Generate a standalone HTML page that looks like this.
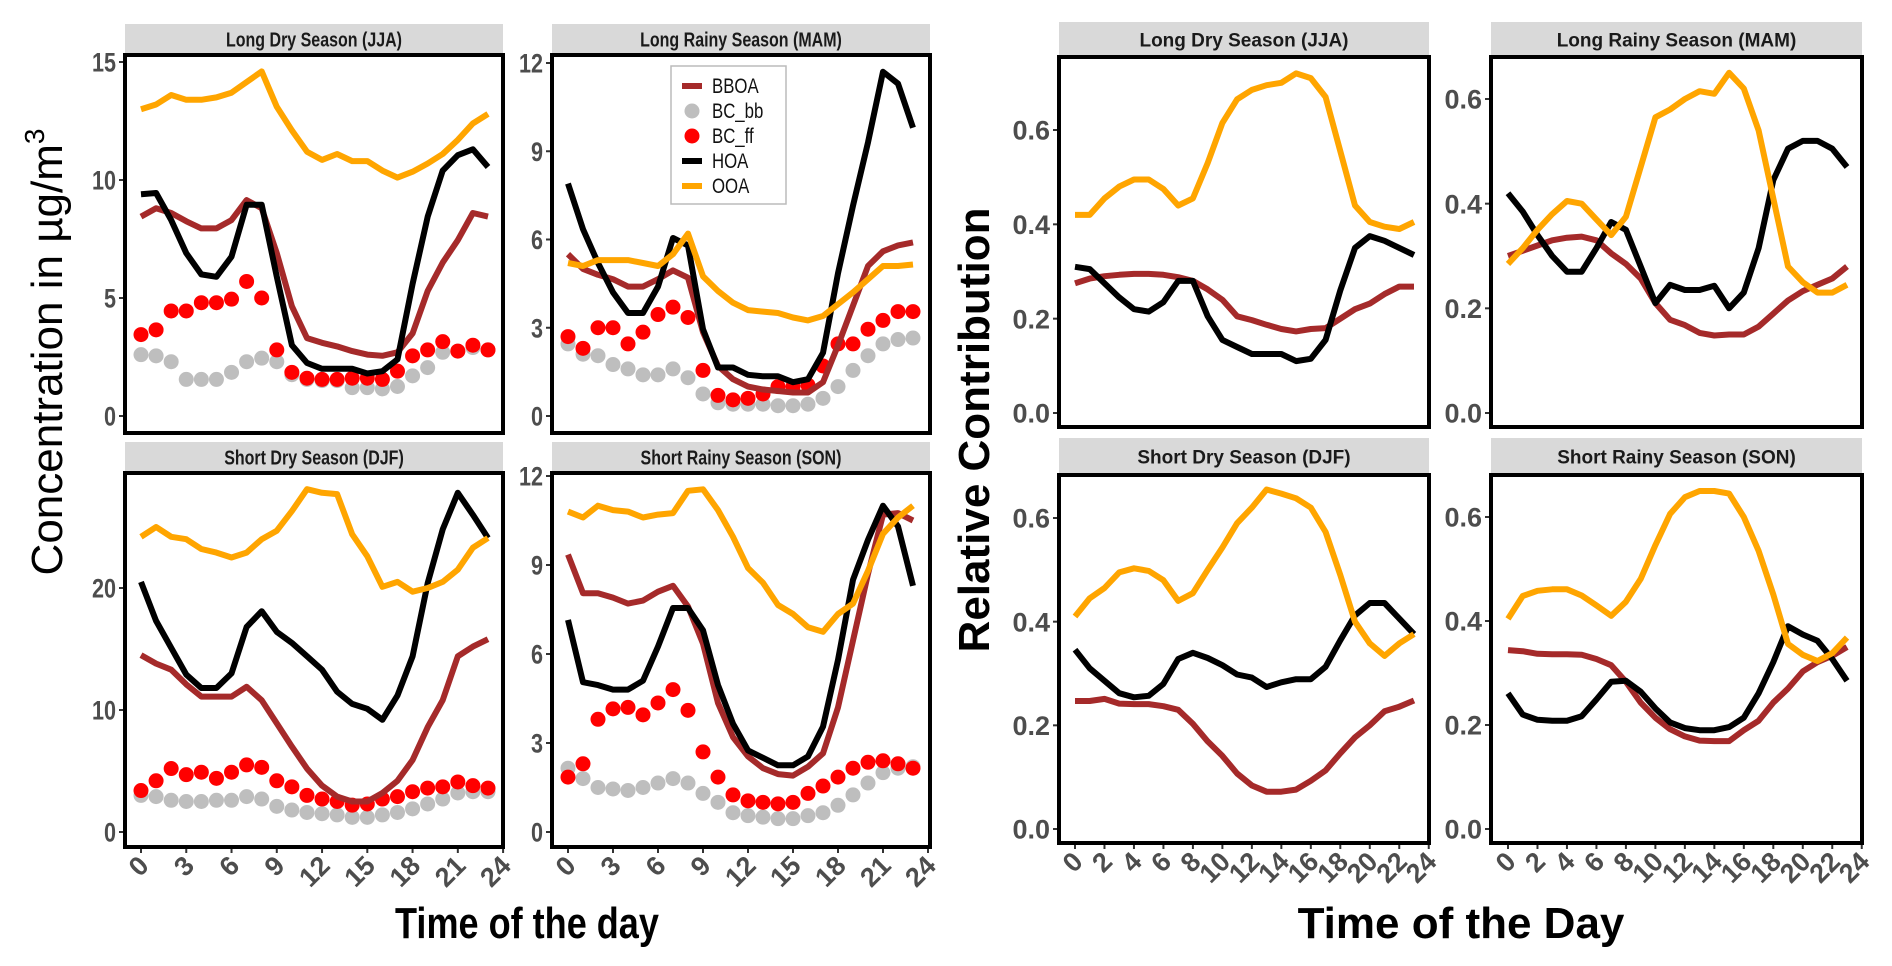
<!DOCTYPE html>
<html><head><meta charset="utf-8"><style>
body{margin:0;background:#fff;}
svg{display:block;}
</style></head><body>
<svg id="fig" width="1892" height="966" viewBox="0 0 1892 966" xmlns="http://www.w3.org/2000/svg" font-family="Liberation Sans, sans-serif"></svg>
<script>
// ---------- data ----------
const hours = [0,1,2,3,4,5,6,7,8,9,10,11,12,13,14,15,16,17,18,19,20,21,22,23];
const seriesNames = ["BBOA","BC_bb","BC_ff","HOA","OOA"];
const leftTicksJJA = [0,5,10,15];
const leftTicksMAM = [0,3,6,9,12];
const leftTicksDJF = [0,10,20];
const leftTicksSON = [0,3,6,9,12];
const leftXTicks = [0,3,6,9,12,15,18,21,24];
const rightYTicks = [0.0,0.2,0.4,0.6];
const rightXTicks = [0,2,4,6,8,10,12,14,16,18,20,22,24];

const jjaOOA = [13.0,13.2,13.6,13.4,13.4,13.5,13.7,14.15,14.6,13.1,12.1,11.2,10.85,11.1,10.8,10.8,10.4,10.1,10.35,10.7,11.1,11.7,12.4,12.8];
const jjaHOA = [9.4,9.45,8.3,6.9,6.0,5.9,6.75,8.95,8.95,5.9,3.0,2.25,2.0,2.0,2.0,1.8,1.9,2.4,5.6,8.45,10.4,11.05,11.3,10.55];
const jjaBBOA = [8.45,8.8,8.6,8.25,7.95,7.95,8.3,9.15,8.8,6.9,4.65,3.3,3.1,2.95,2.75,2.6,2.55,2.7,3.5,5.3,6.5,7.45,8.6,8.45];
const jjaBCff = [3.45,3.65,4.45,4.45,4.8,4.8,4.95,5.7,5.0,2.8,1.85,1.6,1.55,1.55,1.6,1.6,1.55,1.9,2.55,2.8,3.15,2.75,3.0,2.8];
const jjaBCbb = [2.6,2.55,2.3,1.55,1.55,1.55,1.85,2.3,2.45,2.3,1.75,1.55,1.5,1.5,1.2,1.2,1.15,1.25,1.7,2.05,2.7,2.75,2.9,2.8];

const mamHOA = [7.9,6.35,5.2,4.2,3.5,3.5,4.4,6.05,5.8,2.95,1.65,1.65,1.4,1.35,1.35,1.15,1.25,2.15,4.85,7.15,9.3,11.7,11.3,9.8];
const mamBBOA = [5.5,5.0,4.8,4.65,4.4,4.4,4.65,4.95,4.7,2.85,1.7,1.25,1.0,0.9,0.85,0.8,0.8,1.15,2.4,3.75,5.1,5.6,5.8,5.9];
const mamOOA = [5.2,5.1,5.3,5.3,5.3,5.2,5.1,5.5,6.2,4.75,4.25,3.85,3.6,3.55,3.5,3.35,3.25,3.4,3.8,4.2,4.65,5.1,5.1,5.15];
const mamBCff = [2.7,2.3,3.0,3.0,2.45,2.85,3.45,3.7,3.35,1.55,0.7,0.55,0.6,0.75,1.0,1.0,1.05,1.7,2.45,2.45,2.95,3.25,3.55,3.55];
const mamBCbb = [2.45,2.1,2.05,1.75,1.6,1.4,1.4,1.6,1.3,0.75,0.45,0.4,0.4,0.4,0.35,0.35,0.4,0.6,1.0,1.55,2.05,2.45,2.6,2.65];

const djfOOA = [24.2,25.0,24.2,24.0,23.2,22.9,22.5,22.9,24.0,24.7,26.3,28.1,27.8,27.7,24.4,22.6,20.1,20.5,19.7,20.0,20.5,21.5,23.3,24.1];
const djfHOA = [20.5,17.3,15.1,12.9,11.8,11.8,13.0,16.8,18.1,16.4,15.5,14.4,13.3,11.5,10.5,10.1,9.2,11.2,14.4,20.4,24.8,27.8,26.0,24.1];
const djfBBOA = [14.5,13.8,13.3,12.1,11.1,11.1,11.1,11.9,10.8,8.9,7.0,5.2,3.8,2.9,2.5,2.5,3.2,4.2,5.9,8.6,10.8,14.4,15.2,15.8];
const djfBCff = [3.4,4.2,5.2,4.7,4.9,4.4,4.9,5.5,5.3,4.2,3.7,3.0,2.7,2.5,2.2,2.3,2.7,2.9,3.3,3.6,3.7,4.1,3.8,3.6];
const djfBCbb = [3.0,2.9,2.6,2.5,2.5,2.6,2.6,2.9,2.7,2.1,1.8,1.6,1.5,1.4,1.2,1.2,1.4,1.6,1.9,2.3,2.7,3.2,3.3,3.3];

const sonOOA = [10.8,10.6,11.0,10.85,10.8,10.6,10.7,10.75,11.5,11.55,10.85,9.95,8.9,8.4,7.65,7.35,6.9,6.75,7.35,7.7,8.8,10.05,10.6,11.0];
const sonHOA = [7.15,5.05,4.95,4.8,4.8,5.1,6.25,7.55,7.55,6.8,4.95,3.65,2.75,2.5,2.25,2.25,2.55,3.55,5.8,8.5,9.85,11.0,10.3,8.3];
const sonBBOA = [9.35,8.05,8.05,7.9,7.7,7.8,8.1,8.3,7.6,6.35,4.35,3.2,2.55,2.15,1.95,1.9,2.2,2.65,4.2,6.45,8.7,10.7,10.75,10.5];
const sonBCff = [1.85,2.3,3.8,4.15,4.2,3.95,4.35,4.8,4.1,2.7,1.85,1.25,1.05,1.0,0.95,1.0,1.3,1.55,1.85,2.15,2.35,2.4,2.3,2.15];
const sonBCbb = [2.15,1.8,1.5,1.45,1.4,1.5,1.65,1.8,1.65,1.3,1.0,0.65,0.55,0.5,0.45,0.45,0.55,0.65,0.9,1.25,1.65,2.0,2.15,2.2];

const relJJA_OOA = [0.42,0.42,0.455,0.48,0.495,0.495,0.475,0.44,0.455,0.53,0.615,0.665,0.685,0.695,0.70,0.72,0.71,0.67,0.555,0.44,0.405,0.395,0.39,0.405];
const relJJA_HOA = [0.31,0.305,0.275,0.245,0.22,0.215,0.235,0.28,0.28,0.205,0.155,0.14,0.125,0.125,0.125,0.11,0.115,0.155,0.26,0.35,0.375,0.365,0.35,0.335];
const relJJA_BBOA = [0.275,0.285,0.29,0.293,0.295,0.295,0.293,0.288,0.28,0.262,0.24,0.205,0.197,0.187,0.178,0.173,0.178,0.18,0.2,0.22,0.232,0.252,0.268,0.268];
const relMAM_OOA = [0.285,0.315,0.35,0.38,0.405,0.40,0.37,0.34,0.375,0.47,0.565,0.58,0.60,0.615,0.61,0.65,0.62,0.54,0.41,0.28,0.25,0.23,0.23,0.245];
const relMAM_HOA = [0.42,0.385,0.34,0.30,0.27,0.27,0.315,0.365,0.35,0.28,0.21,0.245,0.235,0.235,0.243,0.20,0.23,0.315,0.445,0.505,0.52,0.52,0.505,0.47];
const relMAM_BBOA = [0.30,0.31,0.32,0.33,0.335,0.337,0.33,0.305,0.285,0.257,0.21,0.178,0.168,0.153,0.148,0.15,0.15,0.165,0.19,0.215,0.233,0.245,0.257,0.28];
const relDJF_OOA = [0.41,0.445,0.465,0.495,0.503,0.498,0.48,0.44,0.455,0.50,0.543,0.59,0.62,0.655,0.647,0.638,0.62,0.573,0.49,0.40,0.358,0.334,0.358,0.376];
const relDJF_HOA = [0.346,0.31,0.286,0.262,0.254,0.257,0.28,0.328,0.34,0.33,0.316,0.298,0.292,0.274,0.283,0.289,0.289,0.313,0.364,0.412,0.436,0.436,0.406,0.376];
const relDJF_BBOA = [0.247,0.247,0.251,0.242,0.241,0.241,0.237,0.23,0.203,0.169,0.141,0.107,0.084,0.072,0.072,0.076,0.093,0.113,0.146,0.177,0.2,0.227,0.236,0.248];
const relSON_OOA = [0.404,0.448,0.458,0.461,0.461,0.449,0.43,0.41,0.437,0.481,0.546,0.606,0.638,0.65,0.65,0.645,0.60,0.535,0.451,0.356,0.335,0.323,0.338,0.368];
const relSON_HOA = [0.261,0.22,0.21,0.208,0.208,0.217,0.249,0.283,0.285,0.264,0.232,0.205,0.194,0.19,0.19,0.196,0.214,0.261,0.321,0.39,0.374,0.362,0.327,0.285];
const relSON_BBOA = [0.344,0.342,0.337,0.336,0.336,0.335,0.327,0.315,0.283,0.243,0.214,0.192,0.178,0.17,0.169,0.169,0.19,0.208,0.243,0.27,0.303,0.321,0.333,0.35];

// ---------- drawing ----------
const NS = "http://www.w3.org/2000/svg";
const svg = document.getElementById("fig");
const COL = {BBOA:"#A52A2A", BC_bb:"#BEBEBE", BC_ff:"#FF0000", HOA:"#000000", OOA:"#FFA500"};
function mk(tag, attrs, parent){
  const e = document.createElementNS(NS, tag);
  for (const k in attrs) e.setAttribute(k, attrs[k]);
  (parent||svg).appendChild(e);
  return e;
}

function panel(cfg){
  const g = mk("g", {});
  
  
  const xs = h => cfg.x0 + (h - 0) * (cfg.x23 - cfg.x0) / 23;
  const ys = v => cfg.yZero + (v - 0) * (cfg.yRef - cfg.yZero) / cfg.vRef;
  const strip = mk("rect", {x:cfg.L, y:cfg.sT, width:cfg.R-cfg.L, height:cfg.T-cfg.sT, fill:"#d9d9d9"}, g);
  
  
  const cx = (cfg.L+cfg.R)/2, cy = (cfg.sT+cfg.T)/2 + cfg.stripFont*0.36;
  const st = mk("text", {x:cx, y:cy, "text-anchor":"middle", "font-weight":"bold", "font-size":cfg.stripFont, fill:"#1a1a1a",
    transform:`translate(${cx},0) scale(${cfg.sx},1) translate(${-cx},0)`}, g);
  st.textContent = cfg.title;
  
  
  cfg.yTicks.forEach(v => {
    const y = ys(v);
    mk("line", {x1:cfg.L-6, x2:cfg.L, y1:y, y2:y, stroke:"#333", "stroke-width":2}, g);
    const tx = cfg.L-9;
    const t = mk("text", {x:tx, y:y+cfg.tickFont*0.36, "text-anchor":"end", "font-size":cfg.tickFont, "font-weight":"bold", fill:"#4d4d4d",
      transform:`translate(${tx},0) scale(${cfg.sx},1) translate(${-tx},0)`}, g);
    t.textContent = cfg.yFmt(v);
    
    
  });
  if (cfg.showX){
    cfg.xTicks.forEach(h => {
      const x = xs(h);
      mk("line", {x1:x, x2:x, y1:cfg.B, y2:cfg.B+6, stroke:"#333", "stroke-width":2}, g);
      const px = x+cfg.tickFont*0.35, py = cfg.B+cfg.tickFont*0.75;
      const t = mk("text", {x:px, y:py, "text-anchor":"end", "font-size":cfg.tickFont, "font-weight":"bold", fill:"#4d4d4d",
        transform:`rotate(-45 ${px} ${py})`}, g);
      t.textContent = h;
      
      
    });
  }
  const clip = mk("clipPath", {id:"c"+cfg.name}, g);
  mk("rect", {x:cfg.L, y:cfg.T, width:cfg.R-cfg.L, height:cfg.B-cfg.T}, clip);
  const dg = mk("g", {"clip-path":`url(#c${cfg.name})`}, g);
  cfg.dots.forEach(([nm, arr]) => {
    arr.forEach((v,i) => {
      const c = mk("circle", {cx:xs(hours[i]), cy:ys(v), r:cfg.r, fill:COL[nm]}, dg);
      
      
    });
  });
  cfg.lines.forEach(([nm, arr]) => {
    const d = arr.map((v,i) => (i?"L":"M") + xs(hours[i]).toFixed(1) + "," + ys(v).toFixed(1)).join("");
    const p = mk("path", {d, fill:"none", stroke:COL[nm], "stroke-width":cfg.lw, "stroke-linejoin":"round"}, dg);
    
    
  });
  const fr = mk("rect", {x:cfg.L, y:cfg.T, width:cfg.R-cfg.L, height:cfg.B-cfg.T, fill:"none", stroke:"#000", "stroke-width":4}, g);
  
  
}

const lf = v => String(v);
const rf = v => v.toFixed(1);
const leftCommon = {stripFont:20, tickFont:27, sx:0.8, r:7.5, lw:6, yFmt:lf, xTicks:leftXTicks};
panel(Object.assign({}, leftCommon, {name:"panel-jja-conc", title:"Long Dry Season (JJA)", L:125, R:503, sT:24, T:55, B:433,
  x0:141, x23:488, yZero:416, yRef:62, vRef:15, yTicks:leftTicksJJA, showX:false,
  dots:[["BC_bb",jjaBCbb],["BC_ff",jjaBCff]], lines:[["BBOA",jjaBBOA],["HOA",jjaHOA],["OOA",jjaOOA]]}));
panel(Object.assign({}, leftCommon, {name:"panel-mam-conc", title:"Long Rainy Season (MAM)", L:552, R:930, sT:24, T:55, B:433,
  x0:568, x23:913, yZero:416, yRef:63, vRef:12, yTicks:leftTicksMAM, showX:false,
  dots:[["BC_bb",mamBCbb],["BC_ff",mamBCff]], lines:[["BBOA",mamBBOA],["HOA",mamHOA],["OOA",mamOOA]]}));
panel(Object.assign({}, leftCommon, {name:"panel-djf-conc", title:"Short Dry Season (DJF)", L:125, R:503, sT:442, T:473, B:847,
  x0:141, x23:488, yZero:832, yRef:588, vRef:20, yTicks:leftTicksDJF, showX:true,
  dots:[["BC_bb",djfBCbb],["BC_ff",djfBCff]], lines:[["BBOA",djfBBOA],["HOA",djfHOA],["OOA",djfOOA]]}));
panel(Object.assign({}, leftCommon, {name:"panel-son-conc", title:"Short Rainy Season (SON)", L:552, R:930, sT:442, T:473, B:847,
  x0:568, x23:913, yZero:832, yRef:476, vRef:12, yTicks:leftTicksSON, showX:true,
  dots:[["BC_bb",sonBCbb],["BC_ff",sonBCff]], lines:[["BBOA",sonBBOA],["HOA",sonHOA],["OOA",sonOOA]]}));

const rightCommon = {stripFont:19, tickFont:27, sx:1, r:0, lw:6, yFmt:rf, xTicks:rightXTicks, yTicks:rightYTicks, dots:[]};
panel(Object.assign({}, rightCommon, {name:"panel-jja-rel", title:"Long Dry Season (JJA)", L:1059, R:1429, sT:22, T:57, B:427,
  x0:1075, x23:1414, yZero:413, yRef:130, vRef:0.6, showX:false,
  lines:[["BBOA",relJJA_BBOA],["HOA",relJJA_HOA],["OOA",relJJA_OOA]]}));
panel(Object.assign({}, rightCommon, {name:"panel-mam-rel", title:"Long Rainy Season (MAM)", L:1491, R:1862, sT:22, T:57, B:427,
  x0:1508, x23:1847, yZero:413, yRef:99, vRef:0.6, showX:false,
  lines:[["BBOA",relMAM_BBOA],["HOA",relMAM_HOA],["OOA",relMAM_OOA]]}));
panel(Object.assign({}, rightCommon, {name:"panel-djf-rel", title:"Short Dry Season (DJF)", L:1059, R:1429, sT:438, T:475, B:843,
  x0:1075, x23:1414, yZero:829, yRef:518, vRef:0.6, showX:true,
  lines:[["BBOA",relDJF_BBOA],["HOA",relDJF_HOA],["OOA",relDJF_OOA]]}));
panel(Object.assign({}, rightCommon, {name:"panel-son-rel", title:"Short Rainy Season (SON)", L:1491, R:1862, sT:438, T:475, B:843,
  x0:1508, x23:1847, yZero:829, yRef:517, vRef:0.6, showX:true,
  lines:[["BBOA",relSON_BBOA],["HOA",relSON_HOA],["OOA",relSON_OOA]]}));

// legend
const lg = mk("g", {});


mk("rect", {x:671, y:66, width:115, height:138, fill:"#fff", stroke:"#bbb", "stroke-width":1.5}, lg);
const legY = [86,111,136,161,186];
seriesNames.forEach((nm,i) => {
  const y = legY[i];
  const eg = mk("g", {}, lg);
  
  
  if (nm.startsWith("BC")) mk("circle", {cx:692, cy:y, r:7.5, fill:COL[nm]}, eg);
  else mk("line", {x1:682, x2:702, y1:y, y2:y, stroke:COL[nm], "stroke-width":6}, eg);
  const t = mk("text", {x:712, y:y+7, "font-size":21, fill:"#111", transform:`translate(712,0) scale(0.8,1) translate(-712,0)`}, eg);
  t.textContent = nm;
});

// axis titles
const yt1 = mk("text", {x:0, y:0, "text-anchor":"middle", "font-size":44, fill:"#000", transform:"translate(62,352) rotate(-90)"});


yt1.innerHTML = 'Concentration in µg/m<tspan font-size="28" dy="-18">3</tspan>';
const xt1 = mk("text", {x:527, y:938, "text-anchor":"middle", "font-size":44, "font-weight":"bold", fill:"#000",
  transform:"translate(527,0) scale(0.82,1) translate(-527,0)"});
xt1.textContent = "Time of the day";


const yt2 = mk("text", {x:0, y:0, "text-anchor":"middle", "font-size":44, "font-weight":"bold", fill:"#000", transform:"translate(989,430) rotate(-90)"});
yt2.textContent = "Relative Contribution";


const xt2 = mk("text", {x:1461, y:938, "text-anchor":"middle", "font-size":44, "font-weight":"bold", fill:"#000"});
xt2.textContent = "Time of the Day";


</script>
</body></html>
